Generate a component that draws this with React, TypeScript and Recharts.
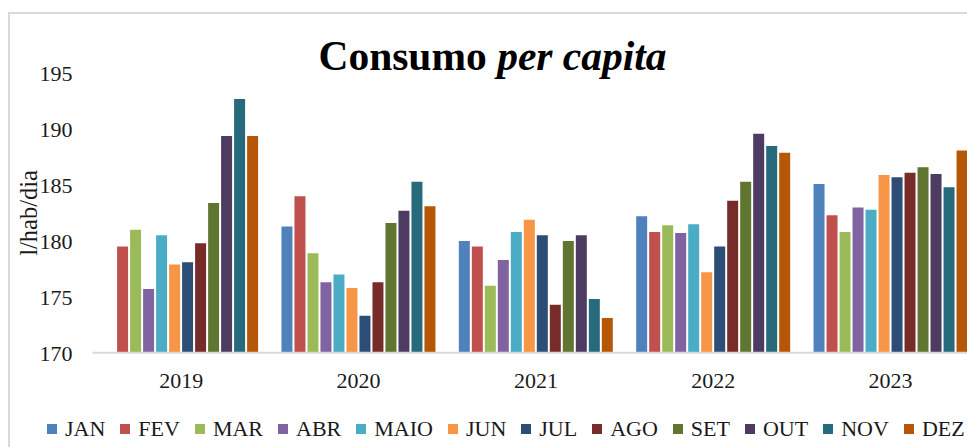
import { BarChart, Bar, XAxis, YAxis } from 'recharts';

const years = ['2019', '2020', '2021', '2022', '2023'];
const months = ['JAN', 'FEV', 'MAR', 'ABR', 'MAIO', 'JUN', 'JUL', 'AGO', 'SET', 'OUT', 'NOV', 'DEZ'];

// l/hab/dia, one value per year
const jan = [null, 181.3, 180.0, 182.2, 185.1];
const fev = [179.5, 184.0, 179.5, 180.8, 182.3];
const mar = [181.0, 178.9, 176.0, 181.4, 180.8];
const abr = [175.7, 176.3, 178.3, 180.7, 183.0];
const maio = [180.5, 177.0, 180.8, 181.5, 182.8];
const jun = [177.9, 175.8, 181.9, 177.2, 185.9];
const jul = [178.1, 173.3, 180.5, 179.5, 185.7];
const ago = [179.8, 176.3, 174.3, 183.6, 186.1];
const set = [183.4, 181.6, 180.0, 185.3, 186.6];
const out = [189.4, 182.7, 180.5, 189.6, 186.0];
const nov = [192.7, 185.3, 174.8, 188.5, 184.8];
const dez = [189.4, 183.1, 173.1, 187.9, 188.1];

const yTicks = [170, 175, 180, 185, 190, 195];

const series = [jan, fev, mar, abr, maio, jun, jul, ago, set, out, nov, dez];
const colors = [
  '#4F81BD', '#C0504D', '#9BBB59', '#8064A2', '#4BACC6', '#F79646',
  '#2C4D75', '#772C2A', '#5F7530', '#4D3B62', '#276A7C', '#B65708',
];

const data = years.map((year, i) => {
  const row: Record<string, string | number | null> = { year };
  months.forEach((m, k) => {
    row[m] = series[k][i];
  });
  return row;
});

const FONT = "'Liberation Serif', 'Times New Roman', serif";

// legend kept in month order, drawn next to the chart
function LegendRow() {
  return (
    <div style={{ position: 'absolute', left: 47, top: 418, display: 'flex', alignItems: 'center', fontFamily: FONT, fontSize: 22, lineHeight: '22px', color: '#1a1a1a' }}>
      {months.map((m, k) => (
        <div key={m} style={{ display: 'flex', alignItems: 'center', marginRight: 15 }}>
          <span style={{ width: 10, height: 10, background: colors[k], marginRight: 8, display: 'inline-block' }} />
          <span style={{ fontFamily: FONT }}>{m}</span>
        </div>
      ))}
    </div>
  );
}

function AxisTitle({ viewBox }: any) {
  const cx = viewBox.x + 28;
  const cy = viewBox.y + viewBox.height / 2;
  return (
    <text x={cx} y={cy} transform={`rotate(-90, ${cx}, ${cy})`} textAnchor="middle" dominantBaseline="central"
      style={{ fontFamily: FONT, fontSize: 24.5, fill: '#1a1a1a' }}>
      l/hab/dia
    </text>
  );
}

export default function App() {
  return (
    <div style={{ position: 'absolute', left: 0, top: 0, width: 967, height: 447, overflow: 'hidden', background: '#fff' }}>
      <div style={{ position: 'absolute', left: 8, top: 12, width: 1100, height: 600, borderLeft: '2px solid #d9d9d9', borderTop: '2px solid #d9d9d9' }} />
      <div style={{ position: 'absolute', left: 0, width: 985, top: 36, textAlign: 'center', fontFamily: FONT, fontSize: 41.5, lineHeight: '40px', fontWeight: 'bold', color: '#000' }}>
        Consumo <i>per capita</i>
      </div>
      <div style={{ position: 'absolute', left: 0, top: 0 }}>
        <BarChart width={1000} height={447} data={data} margin={{ top: 73.3, right: 20.7, left: 0, bottom: 54.3 }}
          barCategoryGap={11.6} barGap={2}>
          <XAxis dataKey="year" height={40} tickLine={false} tickMargin={14}
            axisLine={{ stroke: '#d9d9d9', strokeWidth: 2 }}
            tick={{ fontFamily: FONT, fontSize: 22, fill: '#1a1a1a' }} />
          <YAxis width={92.5} domain={[170, 195]} ticks={yTicks} allowDataOverflow axisLine={false} tickLine={false}
            tickMargin={14} tick={{ fontFamily: FONT, fontSize: 22, fill: '#1a1a1a' }}
            label={{ value: 'l/hab/dia', content: AxisTitle }} />
          {months.map((m, k) => (
            <Bar key={m} dataKey={m} fill={colors[k]} isAnimationActive={false} />
          ))}
        </BarChart>
      </div>
      <LegendRow />
    </div>
  );
}
